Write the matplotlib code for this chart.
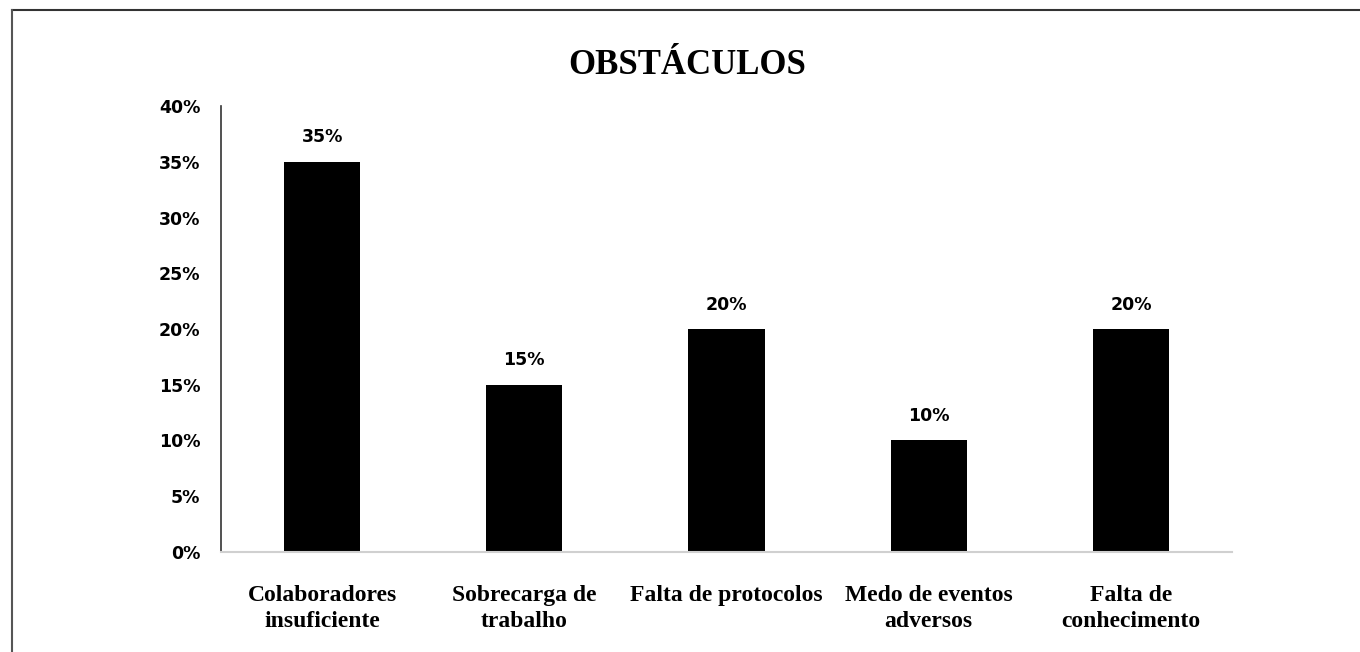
#!/usr/bin/env python3
"""Bar chart of obstacles (OBSTÁCULOS) with percentage labels."""

import matplotlib

matplotlib.use("Agg")

import matplotlib.pyplot as plt
from matplotlib.lines import Line2D
from matplotlib.ticker import FuncFormatter, MultipleLocator

categories = [
    "Colaboradores\ninsuficiente",
    "Sobrecarga de\ntrabalho",
    "Falta de protocolos",
    "Medo de eventos\nadversos",
    "Falta de\nconhecimento",
]
values = [0.35, 0.15, 0.20, 0.10, 0.20]
value_labels = ["35%", "15%", "20%", "10%", "20%"]

fig = plt.figure(figsize=(13.6, 6.52), dpi=100, facecolor="white")
ax = fig.add_axes([0.1625, 0.1534, 0.7434, 0.684])

x = range(len(categories))
bars = ax.bar(x, values, width=0.376, color="black")
ax.set_xlim(-0.5, len(categories) - 0.5)
ax.set_ylim(0, 0.40)
ax.yaxis.set_major_locator(MultipleLocator(0.05))
ax.yaxis.set_major_formatter(FuncFormatter(lambda v, _: f"{v * 100:.0f}%"))

ax.set_xticks(list(x))
ax.set_xticklabels(categories, family="Liberation Serif", fontweight="bold",
                   fontsize=17, linespacing=1.3, va="top")
for lab in ax.get_yticklabels():
    lab.set_fontweight("bold")
    lab.set_fontsize(12.5)
    lab.set_family("DejaVu Sans")
ax.tick_params(axis="x", length=0, pad=24)
ax.tick_params(axis="y", length=0, pad=15)

for side in ("top", "right"):
    ax.spines[side].set_visible(False)
ax.spines["left"].set_color("#333333")
ax.spines["left"].set_linewidth(1.2)
ax.spines["bottom"].set_color("#d0d0d0")
ax.spines["bottom"].set_linewidth(1.5)

for bar, lab in zip(bars, value_labels):
    ax.annotate(lab, (bar.get_x() + bar.get_width() / 2, bar.get_height()),
                xytext=(0, 11), textcoords="offset points", ha="center", va="bottom",
                fontsize=12.5, fontweight="bold", family="DejaVu Sans")

fig.text(0.505, 0.9, "OBSTÁCULOS", ha="center", va="center",
         family="Liberation Serif", fontweight="bold", fontsize=25)

# outer frame (top and left edges only, as in the reference crop)
fig.add_artist(Line2D([12 / 1360, 1.0], [1 - 10 / 652, 1 - 10 / 652],
                      transform=fig.transFigure, color="#333333", lw=1.5))
fig.add_artist(Line2D([12 / 1360, 12 / 1360], [0.0, 1 - 10 / 652],
                      transform=fig.transFigure, color="#555555", lw=1.5))

fig.savefig("out.png", dpi=100, facecolor="white")
